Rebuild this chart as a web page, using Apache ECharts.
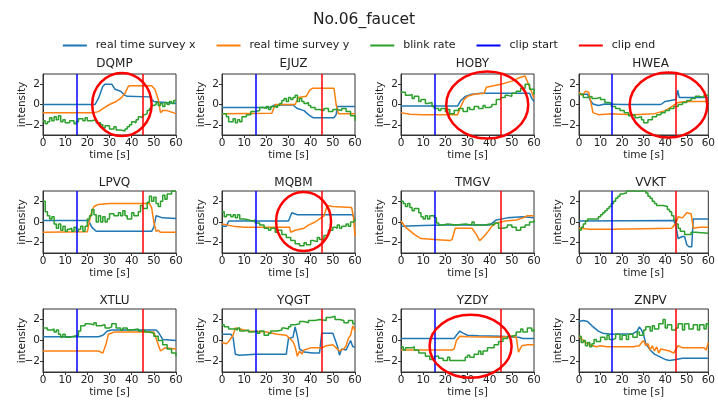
<!DOCTYPE html>
<html lang="en" style="height: 100%">
<head>
<meta charset="utf-8">
<title>No.06_faucet</title>
</head>
<body style="height: 100%; margin: 0; background: #fff">
<div id="container" style="width: 718px; height: 404px"></div>

<script type="text/javascript" src="https://cdn.jsdelivr.net/npm/echarts@6/dist/echarts.min.js"></script>

<script type="text/javascript">
var panelNames = ['DQMP', 'EJUZ', 'HOBY', 'HWEA', 'LPVQ', 'MQBM', 'TMGV', 'VVKT', 'XTLU', 'YQGT', 'YZDY', 'ZNPV'];
var yTicks = [-2, 0, 2];
var clipStart = [15];
var clipEnd = [45];

// [time s, intensity]
var dqmpX = [[0,0],[23.5,0],[25,0.6],[27,1.8],[28,2.0],[31,2.0],[32.5,1.5],[35,1.3],[37,0.9],[38,0.8],[48,0.75],[49,0.5],[50,0.3],[55,0.2],[60,0.1]];
var dqmpY = [[0,-0.8],[23,-0.8],[25,-0.7],[27,-0.4],[30,0],[33,0.3],[35,0.6],[37,1.1],[38.5,1.8],[39.5,1.85],[49,1.85],[50.5,1.5],[52,0.5],[53,-0.8],[54,-0.6],[56,-0.6],[60,-0.9]];
var dqmpBlink = [[0,-1.6],[1,-1.9],[2,-1.7],[3,-1.3],[4,-1.6],[5,-1.2],[6,-1.5],[7,-1.1],[8,-1.7],[9,-1.5],[10,-1.8],[12,-1.6],[14,-1.9],[15,-1.7],[16,-1.4],[18,-1.6],[19,-1.3],[20,-1.6],[22,-1.5],[24,-1.8],[26,-2.0],[27,-2.3],[28,-2.1],[30,-2.4],[32,-2.2],[33,-2.5],[35,-2.6],[37,-2.4],[38,-2.2],[39,-2.0],[40,-1.7],[41,-1.8],[42,-1.5],[43,-1.2],[44,-1.3],[45,-1.0],[46,-0.9],[47,-0.6],[48,-0.4],[49,-0.1],[50,0.0],[51,0.2],[52,-0.1],[53,0.1],[54,-0.2],[55,0.2],[56,0.0],[57,0.3],[58,0.1],[59,0.4],[60,0.4]];

var ejuzX = [[0,-0.3],[22,-0.3],[23.5,-0.05],[32,-0.05],[34,-0.4],[37,-0.6],[39,-1.0],[41,-1.3],[50.5,-1.3],[51.5,-1.0],[52,-0.2],[60,-0.2]];
var ejuzY = [[0,-0.9],[22.5,-0.85],[24,0],[33,0],[34.5,0.7],[38,0.8],[39.5,1.4],[41,1.6],[50.5,1.6],[51.5,0],[52.5,-0.9],[60,-0.9]];
var ejuzBlink = [[0,-0.9],[2,-1.2],[3,-1.7],[5,-1.4],[6,-1.8],[7,-1.5],[8,-1.7],[9,-1.2],[11,-1.0],[13,-0.7],[15,-0.6],[17,-0.3],[19,-0.4],[20,-0.2],[21,-0.5],[22,-0.2],[24,-0.3],[25,-0.1],[26,0.1],[27,0.4],[28,0.6],[29,0.3],[30,0.7],[31,0.5],[32,0.7],[33,0.9],[34,0.3],[35,0.6],[36,0.3],[37,0.1],[38,0.2],[39,-0.1],[40,-0.3],[42,-0.5],[44,-0.6],[46,-0.4],[48,-0.7],[50,-0.5],[52,-0.6],[54,-0.4],[56,-0.7],[58,-1.1],[60,-1.6]];

var hobyX = [[0,-0.15],[25.5,-0.15],[27,0.4],[29,0.8],[32,1.0],[36,1.1],[58,1.1],[59,0.6],[60,0.3]];
var hobyY = [[0,-0.8],[4,-0.95],[10,-1.0],[25.5,-1.0],[27,-0.2],[28.5,0.5],[30,0.8],[33,1.0],[37.5,1.1],[38.5,1.7],[45,2.0],[50,2.3],[53,2.6],[56,2.8],[57.5,2.0],[59,1.2],[60,0.6]];
var hobyBlink = [[0,1.2],[2,0.9],[4,1.0],[5,0.6],[6,0.8],[8,0.3],[9,0.5],[11,0.1],[12,0.2],[14,-0.2],[15,-0.4],[17,-0.6],[18,-0.4],[20,-0.7],[21,-0.5],[22,-0.9],[24,-0.6],[26,-0.4],[28,-0.7],[30,-0.3],[31,-0.5],[33,-0.2],[35,-0.4],[37,-0.1],[38,-0.3],[40,-0.2],[41,0.0],[43,0.5],[45,0.7],[47,0.9],[48,0.8],[50,1.1],[52,1.3],[54,1.6],[56,2.0],[58,1.5],[60,1.0]];

var hweaX = [[0,1.0],[4,1.0],[5,0.5],[6.5,0.05],[9,-0.1],[12,0.05],[20,0.0],[38,0.0],[40,0.3],[45,0.5],[45.8,1.4],[46.5,0.7],[60,0.7]];
var hweaY = [[0,1.2],[1.5,0.9],[3,1.3],[4.5,1.2],[6.5,-0.8],[9,-1.0],[15,-0.9],[25,-1.0],[35,-0.9],[40,-0.6],[43,-0.2],[46,0.2],[50,0.3],[60,0.3]];
var hweaBlink = [[0,1.0],[2,0.7],[4,0.8],[6,0.6],[8,0.7],[10,0.5],[12,0.2],[14,0.1],[15,-0.2],[17,-0.4],[19,-0.6],[21,-0.8],[23,-1.1],[24,-1.0],[26,-1.3],[27,-1.2],[29,-1.5],[30,-1.8],[32,-1.5],[34,-1.2],[36,-1.0],[38,-0.8],[40,-0.6],[42,-0.4],[44,-0.2],[46,0.0],[48,0.2],[50,0.4],[52,0.6],[54,0.8],[56,0.7],[58,0.9],[60,0.8]];

var lpvqX = [[0,0.15],[20.5,0.15],[22,-0.5],[24,-0.9],[49,-0.9],[50,-0.5],[51,0.6],[54,0.4],[60,0.35]];
var lpvqY = [[0,-1.0],[20,-0.95],[20.7,-1.1],[21.5,0.7],[23,1.5],[25,1.7],[30,1.8],[48,1.8],[49,1.4],[50,0.0],[51,-0.9],[52,-0.8],[53,-1.0],[60,-1.0]];
var lpvqBlink = [[0,2.0],[1,1.0],[2,0.6],[3,0.3],[4,0.5],[5,-0.2],[6,-0.6],[7,-0.2],[8,-0.8],[9,-0.4],[10,-0.9],[11,-0.7],[12,-0.6],[13,-0.9],[14,-0.5],[15,-0.9],[16,-0.7],[17,-0.4],[18,-0.9],[19,-0.4],[20,0.3],[21,0.6],[22,1.2],[23,0.7],[24,0.0],[25,0.6],[26,0.0],[27,0.5],[28,0.0],[29,0.3],[30,0.8],[32,0.6],[34,0.9],[35,0.6],[36,1.1],[37,0.6],[38,0.3],[40,0.9],[41,0.6],[43,1.0],[44,1.6],[45,1.3],[47,1.9],[48,2.5],[49,2.0],[50,2.4],[51,1.8],[52,1.5],[53,2.0],[54,2.6],[55,2.2],[56,2.7],[58,3.0],[60,3.0]];

var mqbmX = [[0,-0.4],[2,-0.4],[3,0.1],[30,0.1],[31.5,0.9],[34,0.7],[59,0.7],[60,0.2]];
var mqbmY = [[0,-0.2],[2,-0.3],[5,-0.4],[10,-0.5],[30.5,-0.5],[31,-1.0],[33,-0.8],[35,-0.7],[37,-0.6],[39,-0.3],[42,0.0],[44,0.3],[46,0.6],[47.5,1.6],[50,1.5],[58.5,1.4],[59.3,0.5],[60,-1.4]];
var mqbmBlink = [[0,1.0],[1,0.5],[2,0.7],[4,0.5],[5,0.7],[6,0.4],[7,0.7],[8,0.3],[10,0.2],[12,0.1],[14,0.2],[15,-0.1],[17,-0.3],[19,-0.6],[21,-0.8],[22,-0.6],[24,-1.0],[25,-0.8],[27,-1.2],[29,-1.5],[31,-1.8],[33,-2.1],[35,-2.3],[37,-2.0],[38,-2.2],[40,-1.8],[41,-1.9],[43,-1.5],[44,-1.7],[46,-1.3],[48,-0.8],[50,-0.5],[51,-0.6],[52,-0.3],[53,-0.6],[54,-0.4],[56,-0.2],[57,-0.4],[58,0.0],[59,0.1],[60,0.3]];

var tmgvX = [[0,-0.4],[10,-0.35],[20,-0.3],[40,-0.3],[43,0.2],[48,0.4],[55,0.5],[60,0.4]];
var tmgvY = [[0,0.1],[2,-0.5],[6,-1.2],[9,-1.6],[15,-1.7],[22,-1.8],[23,-1.7],[24.5,-0.6],[32,-0.6],[34,-1.2],[35.5,-1.8],[37,-1.5],[39,-1.0],[41,-0.4],[43,-0.1],[47,0.1],[52,0.2],[55,0.4],[57,0.6],[60,0.6]];
var tmgvBlink = [[0,2.0],[1,1.8],[2,1.5],[3,1.8],[4,1.4],[5,1.1],[6,1.3],[8,0.9],[9,0.5],[10,0.3],[11,0.6],[12,0.3],[13,0.6],[15,0.4],[16,-0.1],[17,-0.3],[19,-0.2],[21,-0.3],[25,-0.2],[29,-0.3],[32,0.0],[33,-0.3],[38,-0.2],[40,-0.3],[42,-0.1],[44,-0.6],[46,-0.5],[48,-0.3],[50,-0.5],[52,-0.8],[54,-0.5],[56,-0.3],[58,0.0],[60,0.2]];

var vvktX = [[0,0.1],[44,0.15],[45,-0.4],[46,-1.6],[48,-1.4],[49,-1.4],[50,-2.2],[51,-2.4],[52.3,-2.4],[53,0.3],[60,0.3]];
var vvktY = [[0,-0.6],[5,-0.7],[15,-0.7],[30,-0.65],[43,-0.6],[45,-0.1],[46,0.5],[48,0.4],[50,0.9],[52,0.8],[53,-0.6],[56,-0.5],[60,-0.5]];
var vvktBlink = [[0,-0.8],[1,-0.5],[2,-0.2],[3,0.1],[4,0.3],[8,0.3],[9,0.5],[10,0.7],[11,0.9],[12,1.1],[13,1.3],[14,1.5],[15,1.8],[16,2.0],[17,2.3],[18,2.5],[19,2.7],[20,2.8],[22,3.0],[30,3.0],[31,2.8],[32,2.5],[33,2.3],[34,2.0],[35,1.8],[36,1.6],[39,1.5],[41,1.2],[42,1.0],[43,0.6],[44,0.2],[45,-0.2],[46,-0.6],[47,-0.9],[49,-1.2],[52,-1.0],[54,-1.1],[60,-1.1]];

var xtluX = [[0,0.35],[25,0.35],[27,0.5],[29,0.9],[31,1.0],[51,1.0],[52,0.8],[54,0.1],[60,0.0]];
var xtluY = [[0,-1.0],[25,-1.0],[27,-1.2],[28.5,-0.3],[29.5,0.6],[32,0.8],[50,0.8],[53,-1.0],[55,-0.7],[60,-0.8]];
var xtluBlink = [[0,1.2],[2,1.0],[4,1.1],[5,0.8],[6,1.0],[7,0.6],[8,0.3],[9,0.6],[10,0.3],[12,0.4],[14,0.5],[16,0.9],[17,1.4],[19,1.6],[21,1.5],[23,1.7],[24,1.4],[26,1.5],[28,1.2],[30,1.3],[31,1.6],[33,1.2],[35,1.0],[36,1.2],[38,1.0],[40,1.1],[43,0.9],[45,1.0],[46,0.8],[48,0.7],[50,0.4],[52,0.0],[54,-0.4],[56,-0.8],[58,-1.2],[60,-1.5]];

var yqgtX = [[0,0.6],[4,0.6],[5,0.3],[6,-1.3],[8,-1.4],[15,-1.3],[29,-1.3],[30,0.2],[32,0.3],[33,1.3],[34,0.4],[35,-0.8],[37,-1.1],[41,-1.2],[44,-1.2],[45,0.7],[50,0.7],[52,-0.5],[53,-1.4],[54,-0.8],[56,-0.9],[58,0.0],[59,-0.6],[60,-0.6]];
var yqgtY = [[0,-0.2],[2,-0.3],[3,-0.1],[5,0.5],[6,1.2],[8,1.1],[12,0.9],[20,0.8],[25,0.6],[29,0.5],[30,0.3],[32,-0.1],[33,-0.6],[34,-1.5],[35,-1.0],[36,-1.3],[37,-0.9],[40,-0.7],[45,-0.7],[47,-0.5],[50,-0.4],[52,-0.8],[53,-1.0],[55,-0.8],[56,-0.5],[57,0.2],[58,0.5],[59,1.4],[60,0.9]];
var yqgtBlink = [[0,1.5],[1,1.3],[3,1.1],[6,1.0],[7,1.2],[8,0.9],[10,1.0],[12,0.8],[14,0.9],[16,0.7],[17,0.9],[19,0.5],[21,0.7],[22,0.9],[25,1.0],[27,1.2],[28,1.1],[30,1.3],[31,1.5],[33,1.6],[35,1.8],[37,1.7],[39,1.9],[42,2.0],[44,1.9],[47,2.2],[49,2.3],[51,2.0],[53,1.9],[55,1.7],[57,1.9],[59,1.6],[60,1.6]];

var yzdyX = [[0,0.2],[24,0.2],[25,0.5],[26.5,0.9],[28,0.7],[30,0.5],[35,0.45],[45,0.4],[52,0.3],[53,0.3],[55,0.2],[60,0.2]];
var yzdyY = [[0,-0.9],[23,-0.9],[24,-0.8],[25,0.0],[26.5,0.4],[30,0.35],[45,0.3],[50,0.4],[52,0.3],[53,-1.1],[54.5,-0.5],[57,-0.4],[60,-0.4]];
var yzdyBlink = [[0,-0.6],[1,-0.9],[2,-0.7],[5,-0.6],[6,-0.9],[8,-1.2],[11,-1.5],[13,-1.8],[15,-1.5],[17,-1.7],[19,-1.9],[21,-1.6],[22,-1.9],[27,-1.9],[29,-1.6],[30,-1.4],[31,-1.6],[33,-1.3],[35,-1.0],[36,-1.3],[37,-1.0],[39,-0.7],[42,-0.4],[44,-0.1],[46,0.2],[48,0.4],[50,0.5],[52,0.8],[54,1.1],[55,0.8],[57,1.2],[59,0.9],[60,1.1]];

var znpvX = [[0,1.8],[2,1.9],[4,1.8],[6,1.4],[9,0.9],[11,0.7],[15,0.6],[25,0.65],[27,0.9],[28,1.3],[29,1.0],[30,0.5],[31,-0.3],[33,-0.9],[35,-1.3],[38,-1.6],[40,-1.8],[42,-1.9],[45,-1.8],[48,-1.7],[60,-1.7]];
var znpvY = [[0,0.4],[1,0.2],[2,0.0],[3,-0.2],[5,-0.4],[8,-0.6],[10,-0.5],[13,-0.6],[25,-0.6],[28,-0.5],[29,-0.2],[30,0.0],[31,-0.5],[32,-0.3],[33,-0.9],[34,-0.5],[35,-1.0],[36,-0.6],[37,-1.2],[38,-0.8],[40,-0.9],[42,-1.0],[44,-1.2],[45,-0.8],[46,-0.5],[48,-0.7],[58,-0.7],[59,-0.9],[60,-0.2]];
var znpvBlink = [[0,0.4],[1,-0.2],[2,0.0],[3,-0.5],[4,-0.2],[5,-0.6],[6,-0.3],[7,0.1],[8,-0.1],[10,0.3],[12,0.1],[13,0.5],[14,0.1],[16,0.2],[17,0.6],[19,0.1],[20,0.5],[22,0.1],[23,0.6],[25,0.3],[27,0.8],[28,0.5],[30,1.0],[31,1.3],[33,0.9],[34,1.4],[35,1.1],[37,1.6],[39,2.0],[40,1.2],[41,1.5],[43,1.0],[45,1.2],[46,1.6],[48,1.0],[49,1.6],[51,1.1],[53,1.5],[55,1.0],[56,1.5],[58,1.1],[59,1.6],[60,1.3]];

var surveyX = [dqmpX, ejuzX, hobyX, hweaX, lpvqX, mqbmX, tmgvX, vvktX, xtluX, yqgtX, yzdyX, znpvX];
var surveyY = [dqmpY, ejuzY, hobyY, hweaY, lpvqY, mqbmY, tmgvY, vvktY, xtluY, yqgtY, yzdyY, znpvY];
var blinkRate = [dqmpBlink, ejuzBlink, hobyBlink, hweaBlink, lpvqBlink, mqbmBlink, tmgvBlink, vvktBlink, xtluBlink, yqgtBlink, yzdyBlink, znpvBlink];

// red ellipses: panel, centre [s, intensity], radii [s, intensity]
var ellipsePanels = ['DQMP', 'HOBY', 'HWEA', 'MQBM', 'YZDY'];
var ellipseCenters = [[35.6, 0], [38.9, -0.05], [41.5, -0.05], [36.8, 0.05], [31.4, -0.55]];
var ellipseRadii = [[13.4, 3.1], [18.5, 3.3], [18, 3.2], [12.4, 2.85], [18.5, 3.0]];

var dom = document.getElementById('container');
var myChart = echarts.init(dom);

var font = 'DejaVu Sans';
var ink = '#222';
var gridLefts = [43, 222, 401, 579];
var gridTops = [74, 191, 309];
var gridHeights = [61, 62, 63];
var titleTops = [53, 172, 290];
var gridWidth = 133;

function minusFmt(v) {
  return v < 0 ? '\u2212' + Math.abs(v) : String(v);
}

var grids = [], xAxes = [], yAxes = [], titles = [], series = [];

titles.push({
  text: 'No.06_faucet', left: 359, top: 7, textAlign: 'center',
  textStyle: {fontSize: 15.5, fontWeight: 'normal', color: ink, fontFamily: font}
});

panelNames.forEach(function (name, i) {
  var col = i % 4, row = Math.floor(i / 4);
  grids.push({
    left: gridLefts[col], top: gridTops[row], width: gridWidth, height: gridHeights[row],
    show: true, borderColor: '#333', borderWidth: 1, backgroundColor: 'transparent'
  });
  xAxes.push({
    type: 'value', gridIndex: i, min: 0, max: 60, interval: 10,
    name: 'time [s]', nameLocation: 'middle', nameGap: 15, nameMoveOverlap: false,
    nameTextStyle: {fontSize: 10.5, color: ink, fontFamily: font},
    axisLine: {show: true, onZero: false, lineStyle: {color: '#333'}},
    axisTick: {show: true, length: 3, lineStyle: {color: '#333'}},
    axisLabel: {fontSize: 10.5, color: ink, margin: 3, fontFamily: font},
    splitLine: {show: false}
  });
  yAxes.push({
    type: 'value', gridIndex: i, min: -3, max: 3,
    name: 'intensity', nameLocation: 'middle', nameGap: 15, nameMoveOverlap: false,
    nameTextStyle: {fontSize: 10.5, color: ink, fontFamily: font},
    axisLine: {show: true, onZero: false, lineStyle: {color: '#333'}},
    axisTick: {show: true, length: 3, customValues: yTicks, lineStyle: {color: '#333'}},
    axisLabel: {fontSize: 10.5, color: ink, margin: 3, fontFamily: font, customValues: yTicks, formatter: minusFmt},
    splitLine: {show: false}
  });
  titles.push({
    text: name, left: gridLefts[col] + gridWidth / 2, top: titleTops[row], textAlign: 'center',
    textStyle: {fontSize: 12, fontWeight: 'normal', color: ink, fontFamily: font}
  });

  var lines = [
    ['real time survey x', surveyX[i], '#1f77b4', false],
    ['real time survey y', surveyY[i], '#ff7f0e', false],
    ['blink rate', blinkRate[i], '#2ca02c', 'end']
  ];
  lines.forEach(function (l) {
    series.push({
      name: l[0], type: 'line', xAxisIndex: i, yAxisIndex: i, data: l[1],
      step: l[3], showSymbol: false, symbol: 'none', color: l[2],
      lineStyle: {width: 1.5, color: l[2]}
    });
  });
  [['clip start', clipStart, '#0000ff'], ['clip end', clipEnd, '#ff0000']].forEach(function (c) {
    series.push({
      name: c[0], type: 'line', xAxisIndex: i, yAxisIndex: i, data: [], color: c[2],
      lineStyle: {width: 1.5, color: c[2]},
      markLine: {
        silent: true, symbol: ['none', 'none'], label: {show: false},
        lineStyle: {color: c[2], width: 1.5, type: 'solid'},
        data: c[1].map(function (t) { return {xAxis: t}; })
      }
    });
  });
});

var option = {
  animation: false,
  backgroundColor: '#fff',
  title: titles,
  legend: {
    data: ['real time survey x', 'real time survey y', 'blink rate', 'clip start', 'clip end'],
    top: 35, left: 'center', icon: 'rect', itemWidth: 24, itemHeight: 2, itemGap: 21,
    textStyle: {fontSize: 11, color: ink, fontFamily: font, padding: [0, 0, 0, 4]}
  },
  grid: grids,
  xAxis: xAxes,
  yAxis: yAxes,
  series: series
};

myChart.setOption(option);

var ellipses = ellipsePanels.map(function (name, k) {
  var g = panelNames.indexOf(name);
  var c = myChart.convertToPixel({gridIndex: g}, ellipseCenters[k]);
  var e = myChart.convertToPixel({gridIndex: g}, [ellipseCenters[k][0] + ellipseRadii[k][0], ellipseCenters[k][1] + ellipseRadii[k][1]]);
  return {
    type: 'ellipse', z: 100, silent: true,
    shape: {cx: c[0], cy: c[1], rx: Math.abs(e[0] - c[0]), ry: Math.abs(e[1] - c[1])},
    style: {fill: 'none', stroke: '#ff0000', lineWidth: 2.5}
  };
});
myChart.setOption({graphic: ellipses});

window.addEventListener('resize', myChart.resize);
</script>
</body>
</html>
